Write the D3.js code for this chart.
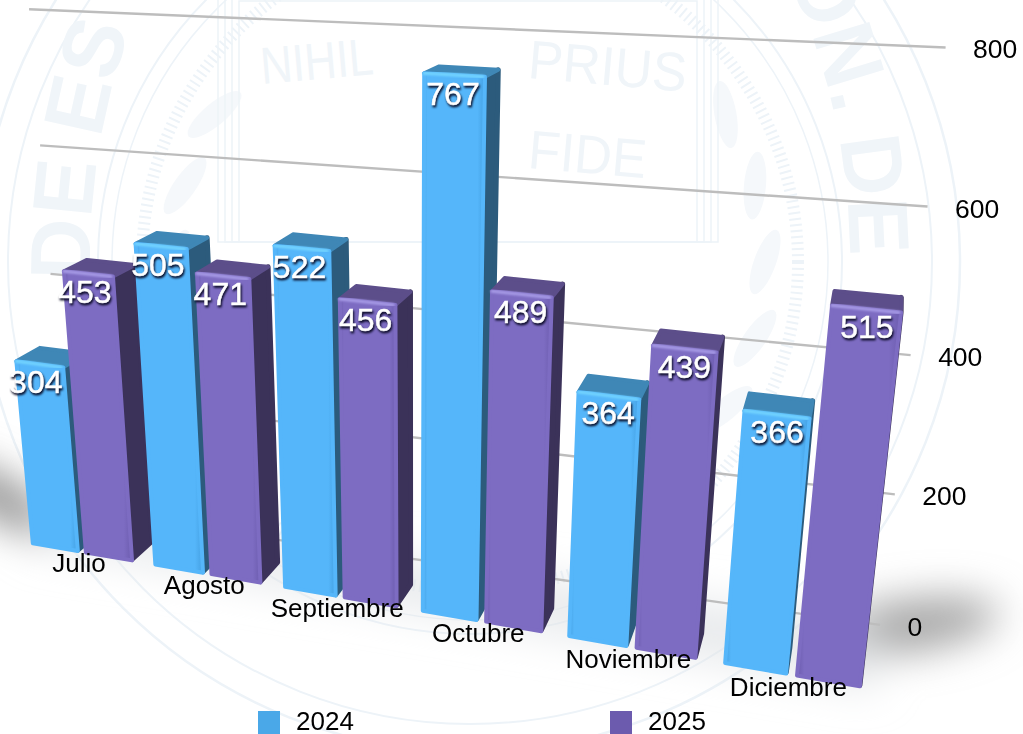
<!DOCTYPE html>
<html>
  <head>
    <meta charset="utf-8">
    <style>
      html, body { margin: 0; padding: 0; background: #fff; overflow: hidden; }
      svg { display: block; }
      text { font-family: "Liberation Sans", Arial, Helvetica, sans-serif; }
      .value-label { fill: #fff; stroke: #fff; stroke-width: .5; font-size: 32px; text-anchor: middle; filter: drop-shadow(1px 2px 1px rgba(5,5,30,1)); }
      .month-label { fill: #000; font-size: 26px; text-anchor: middle; }
      .tick-label { fill: #000; font-size: 26.5px; }
      .legend-label { fill: #000; font-size: 26px; }
      .grid { stroke: #bdbdbd; stroke-width: 2.4; fill: none; }
      .seal { fill: none; stroke: #edf3f8; }
      .seal-text { fill: #f0f5f9; font-weight: bold; font-size: 85px; }
      .motto { fill: #f0f5f9; font-size: 52px; }
      .leaf { fill: #f5f8fb; }
    </style>
  </head>
  <body>
    <script src="https://d3js.org/d3.v7.min.js"></script>
    <script>
      const months = ['Julio', 'Agosto', 'Septiembre', 'Octubre', 'Noviembre', 'Diciembre'];
      const years = ['2024', '2025'];
      const values2024 = [304, 505, 522, 767, 364, 366];
      const values2025 = [453, 471, 456, 489, 439, 515];
      const yTicks = [0, 200, 400, 600, 800];

      const width = 1023;
      const height = 734;

      const colors = {
        '2024': { front: '#55b6fa', edge: '#44a0e2', top: '#3f87b6', side: '#2c5b7c', light: '#74d6ff', key: '#4aa8e8' },
        '2025': { front: '#7d6cc2', edge: '#6c5cae', top: '#5c4e8a', side: '#3b3259', light: '#a99de8', key: '#6c5bae' }
      };

      // along the floor: month groups, then the two bars inside a group
      const x0 = d3.scaleBand().domain(months).range([0, 1.1628]).paddingInner(0.186);
      const x1 = d3.scaleBand().domain(years).range([0, x0.bandwidth()]).paddingInner(0.15);
      // bar height, and the same thing for the back wall
      const y = d3.scaleLinear().domain([0, 800]).range([0, 523.4]);
      const yWall = d3.scaleLinear().domain([0, 800]).range([0, 528.6]);

      const barDepth = 0.026;
      const wallEnds = { left: [-0.01, 0.051], right: [1.184, 0.072] };

      // perspective camera fitted to the picture: u along the floor, h up, q into the page
      function project(u, h, q) {
        const w = 1 - 0.14 * u - 0.000211 * h + q;
        return [
          (33 + 590.5 * u - 0.087 * h + 907 * q) / w,
          (545 + 26.9 * u - h - 146 * q) / w
        ];
      }
      const wallPoint = (end, d) => project(wallEnds[end][0], yWall(d), wallEnds[end][1]);

      const svg = d3.select('body').append('svg')
        .attr('width', width)
        .attr('height', height);

      const defs = svg.append('defs');
      defs.append('filter').attr('id', 'blur').attr('x', '-40%').attr('y', '-80%').attr('width', '180%').attr('height', '260%')
        .append('feGaussianBlur').attr('stdDeviation', 20);
      defs.append('filter').attr('id', 'soft')
        .append('feGaussianBlur').attr('stdDeviation', 0.8);

      years.forEach(yr => {
        const c = colors[yr];
        const grad = defs.append('linearGradient').attr('id', 'front' + yr);
        grad.append('stop').attr('offset', '0').attr('stop-color', c.edge);
        grad.append('stop').attr('offset', '0.07').attr('stop-color', c.front);
        grad.append('stop').attr('offset', '0.88').attr('stop-color', c.front);
        grad.append('stop').attr('offset', '1').attr('stop-color', c.edge);
      });

      // watermark seal behind the chart
      const seal = svg.append('g');
      const sealX = 470;
      const sealY = 262;
      [[490, 2.5], [462, 2], [372, 2], [358, 1.5]].forEach(d => {
        seal.append('circle').attr('class', 'seal')
          .attr('cx', sealX).attr('cy', sealY).attr('r', d[0]).attr('stroke-width', d[1]);
      });
      seal.append('circle').attr('class', 'seal')
        .attr('cx', sealX).attr('cy', sealY).attr('r', 328)
        .attr('stroke-width', 12).attr('stroke-dasharray', '2 4');
      [150, 165, 180, 195, 210, -30, -15, 0, 15, 30].forEach(a => {
        seal.append('ellipse').attr('class', 'leaf')
          .attr('rx', 11).attr('ry', 34)
          .attr('transform', `translate(${sealX},${sealY}) rotate(${a}) translate(295,0) rotate(20)`);
      });
      [0, 7, 14, 21].forEach(d => {
        seal.append('rect').attr('class', 'seal')
          .attr('x', 218 + d).attr('y', -20 + d)
          .attr('width', 500 - 2 * d).attr('height', 262 - d)
          .attr('stroke-width', 1.5);
      });
      defs.append('path').attr('id', 'ring')
        .attr('d', `M${sealX - 379.8},${sealY + 18} A380,520 0 1,1 ${sealX + 377.5},${sealY + 60}`);
      seal.append('text').attr('class', 'seal-text')
        .append('textPath').attr('href', '#ring').attr('startOffset', 0)
        .text('DE ES');
      seal.append('text').attr('class', 'seal-text')
        .append('textPath').attr('href', '#ring').attr('startOffset', 1140)
        .text('ON. DE');
      seal.append('text').attr('class', 'motto').attr('transform', 'translate(262,84) rotate(-5) scale(.85,1)').text('NIHIL');
      seal.append('text').attr('class', 'motto').attr('transform', 'translate(527,78) rotate(5) scale(1,1.05)').text('PRIUS');
      seal.append('text').attr('class', 'motto').attr('transform', 'translate(527,168) rotate(5) scale(1,1.05)').text('FIDE');

      // floor shadow
      const shadow = svg.append('g').attr('filter', 'url(#blur)');
      shadow.append('ellipse').attr('cx', 905).attr('cy', 626).attr('rx', 95).attr('ry', 26)
        .attr('transform', 'rotate(-8 905 626)').attr('fill', '#a4a4a4');
      shadow.append('ellipse').attr('cx', 0).attr('cy', 498).attr('rx', 60).attr('ry', 20)
        .attr('transform', 'rotate(32 0 498)').attr('fill', '#8c8c8c');
      shadow.append('path').attr('fill', '#dfe3e6').attr('opacity', 0.7)
        .attr('d', d3.line()([project(-0.015, 0, 0), project(1.184, 0, 0), wallPoint('right', 0), wallPoint('left', 0)]) + 'Z');

      // gridlines on the back wall
      svg.append('g').selectAll('line')
        .data(yTicks)
        .join('line')
        .attr('class', 'grid')
        .attr('x1', d => wallPoint('left', d)[0])
        .attr('y1', d => wallPoint('left', d)[1])
        .attr('x2', d => wallPoint('right', d)[0])
        .attr('y2', d => wallPoint('right', d)[1]);

      svg.append('g').selectAll('text')
        .data(yTicks)
        .join('text')
        .attr('class', 'tick-label')
        .attr('x', d => wallPoint('right', d)[0] + 27.5)
        .attr('y', d => wallPoint('right', d)[1] + 11)
        .text(d => d);

      const bars = [];
      months.forEach((m, i) => {
        bars.push({ month: m, year: '2024', value: values2024[i] });
        bars.push({ month: m, year: '2025', value: values2025[i] });
      });

      const poly = pts => d3.line()(pts) + 'Z';

      const barGroup = svg.append('g').selectAll('g')
        .data(bars)
        .join('g');

      barGroup.each(function(d) {
        const g = d3.select(this);
        const c = colors[d.year];
        const u0 = x0(d.month) + x1(d.year);
        const u1 = u0 + x1.bandwidth();
        const h = y(d.value);

        const frontTL = project(u0, h, 0);
        const frontTR = project(u1, h, 0);

        g.append('path')
          .attr('d', poly([project(u1, 3, 0), project(u1, 3, barDepth), project(u1, h, barDepth), frontTR]))
          .attr('fill', c.side).attr('stroke', c.side)
          .attr('stroke-width', 5).attr('stroke-linejoin', 'round');

        g.append('path')
          .attr('d', poly([frontTL, frontTR, project(u1, h, barDepth), project(u0, h, barDepth)]))
          .attr('fill', c.top).attr('stroke', c.top)
          .attr('stroke-width', 4).attr('stroke-linejoin', 'round');

        g.append('path')
          .attr('d', poly([project(u0, 2, 0), project(u1, 2, 0), frontTR, frontTL]))
          .attr('fill', `url(#front${d.year})`).attr('stroke', c.front)
          .attr('stroke-width', 4).attr('stroke-linejoin', 'round');

        g.append('line')
          .attr('x1', frontTL[0]).attr('y1', frontTL[1])
          .attr('x2', frontTR[0] - 2).attr('y2', frontTR[1])
          .attr('stroke', c.light).attr('stroke-width', 3)
          .attr('stroke-linecap', 'round').attr('filter', 'url(#soft)');
      });

      svg.append('g').selectAll('text')
        .data(bars)
        .join('text')
        .attr('class', 'value-label')
        .attr('x', d => {
          const u = x0(d.month) + x1(d.year);
          const a = project(u, y(d.value), 0);
          const b = project(u + x1.bandwidth(), y(d.value), 0);
          return (a[0] + b[0]) / 2 - 4 * (1 - u);
        })
        .attr('y', d => project(x0(d.month) + x1(d.year), y(d.value), 0)[1] + 32)
        .text(d => d.value);

      svg.append('g').selectAll('text')
        .data(months)
        .join('text')
        .attr('class', 'month-label')
        .attr('x', d => project(x0(d) + x0.bandwidth() / 2, 0, 0)[0] - 3)
        .attr('y', d => project(x0(d) + x0.bandwidth() / 2, 0, 0)[1] + 19)
        .text(d => d);

      // legend
      const legendX = d3.scaleOrdinal().domain(years).range([258, 610]);
      const legend = svg.append('g').selectAll('g')
        .data(years)
        .join('g')
        .attr('transform', d => `translate(${legendX(d)},711)`);
      legend.append('rect')
        .attr('width', 22).attr('height', 23)
        .attr('fill', d => colors[d].key);
      legend.append('text')
        .attr('class', 'legend-label')
        .attr('x', 38).attr('y', 19)
        .text(d => d);
    </script>
  </body>
</html>
